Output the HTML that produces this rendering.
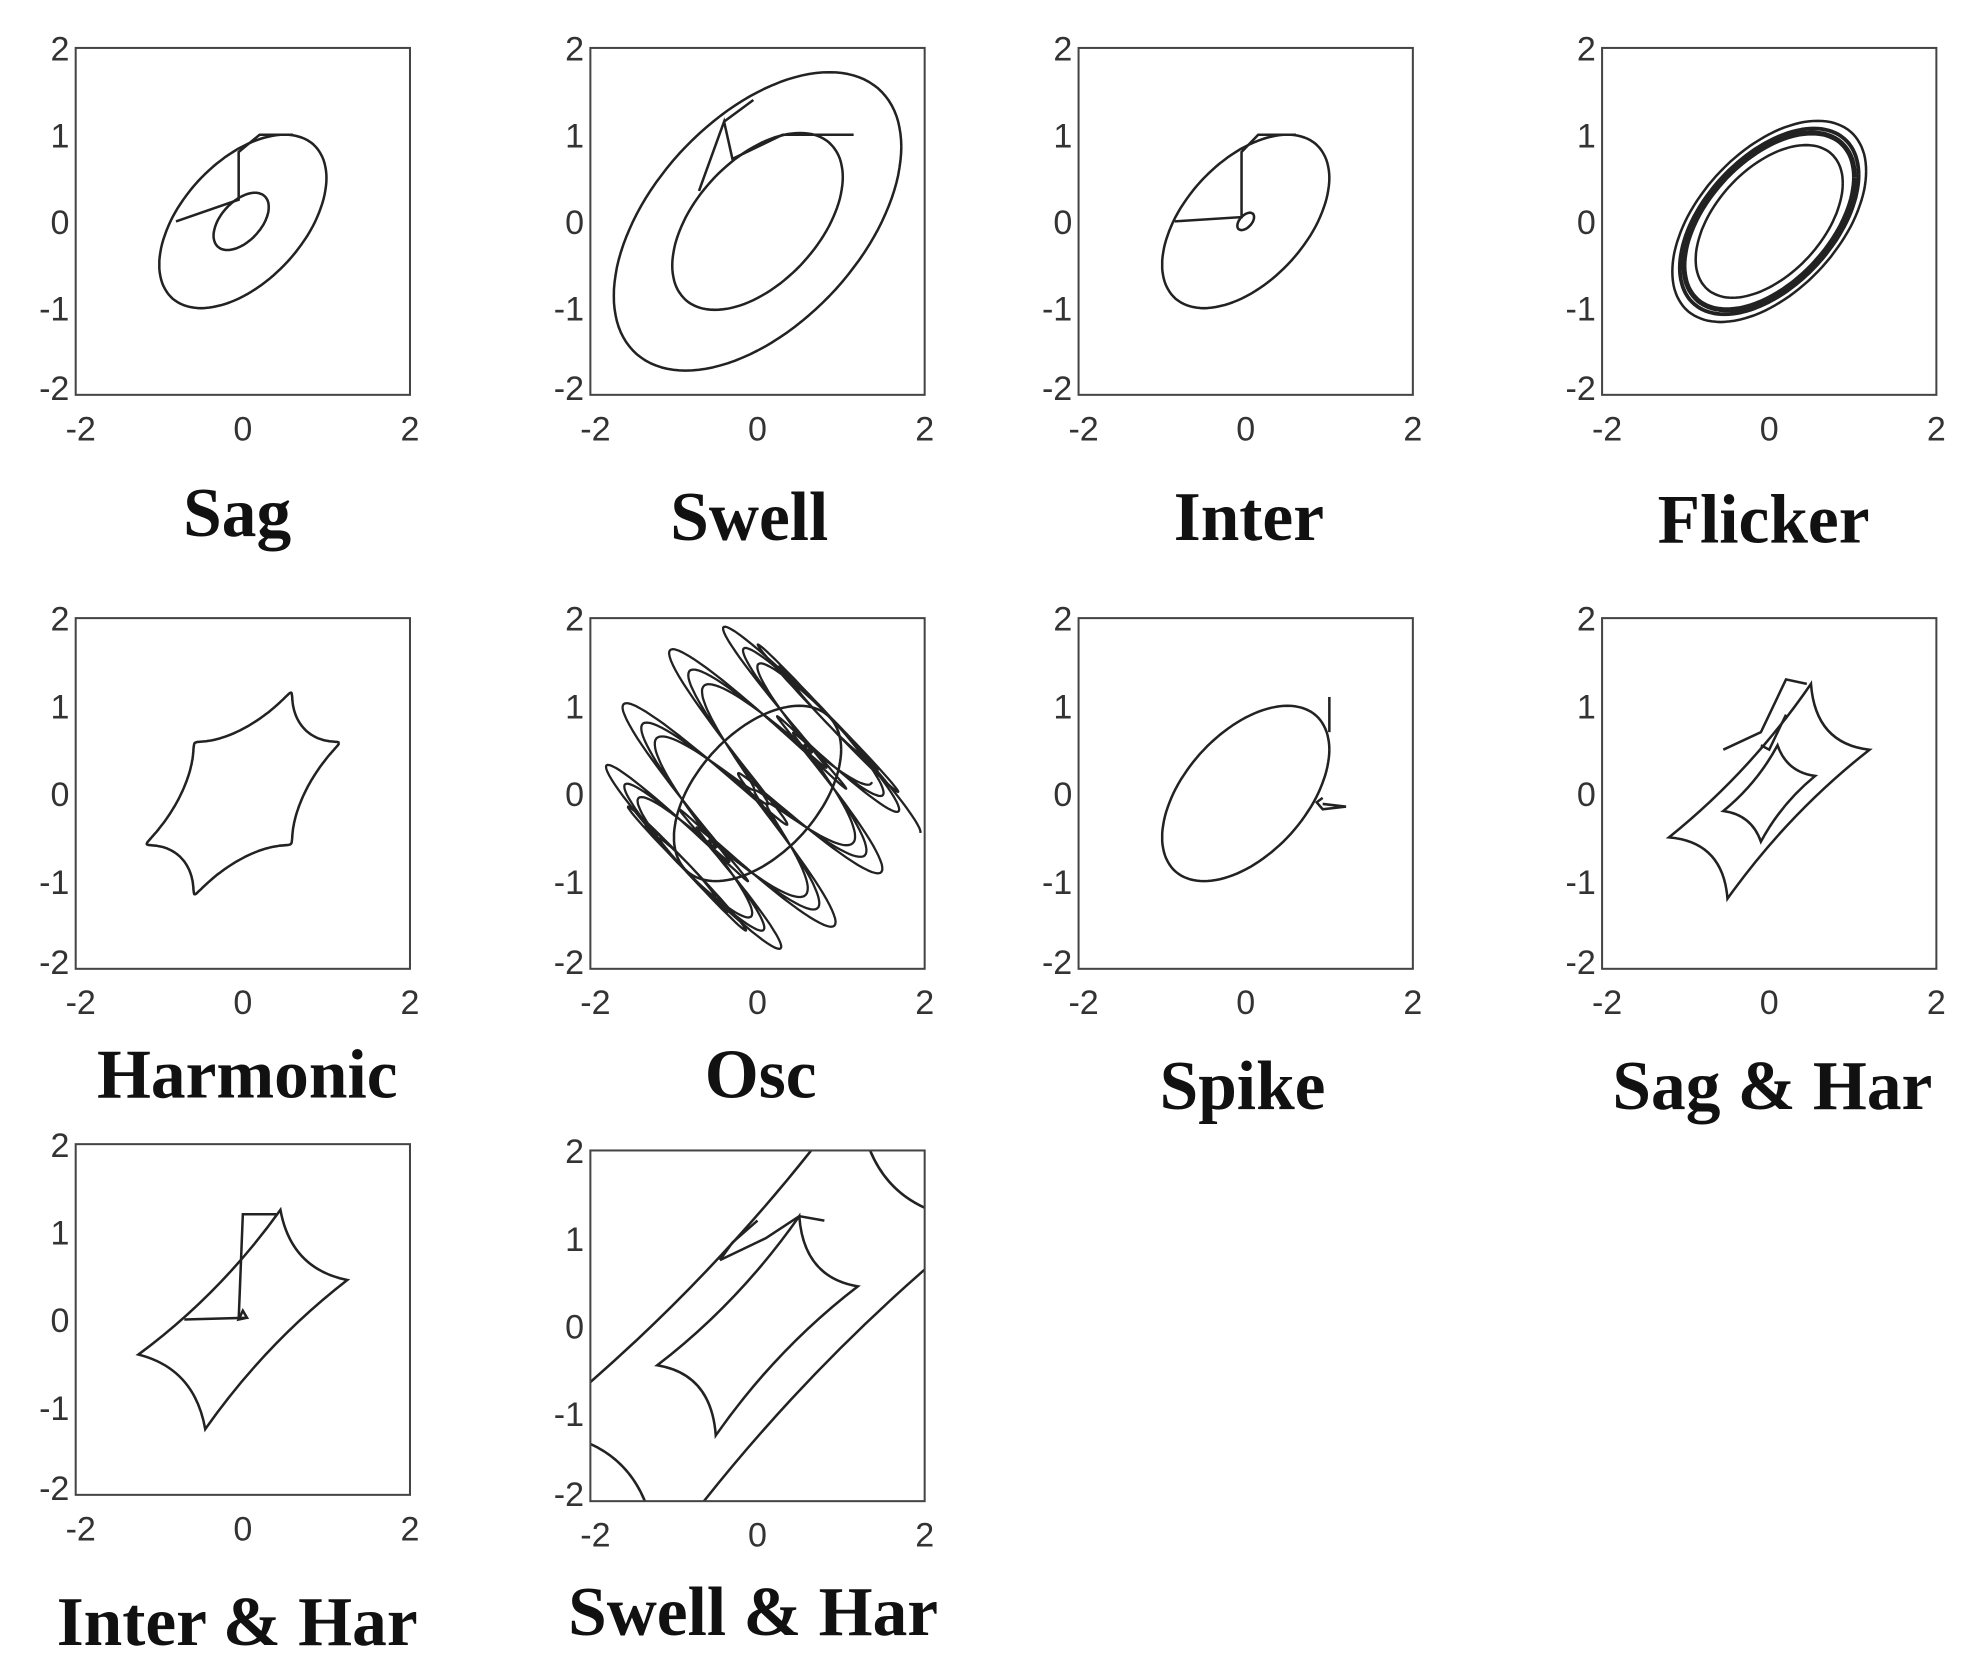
<!DOCTYPE html>
<html><head><meta charset="utf-8"><style>
html,body{margin:0;padding:0;background:#fff;}
svg{display:block;}
.t{font-family:"Liberation Sans",sans-serif;font-size:27px;fill:#333;}
.L{font-family:"Liberation Serif",serif;font-weight:bold;font-size:55px;fill:#111;}
</style></head><body>
<svg id="s" width="1978" height="1676" viewBox="0 0 1568 1328.6" xmlns="http://www.w3.org/2000/svg">
<text class="L" x="188" y="425" text-anchor="middle">Sag</text>
<text class="L" x="594" y="428" text-anchor="middle">Swell</text>
<text class="L" x="990" y="428" text-anchor="middle">Inter</text>
<text class="L" x="1398" y="430" text-anchor="middle">Flicker</text>
<text class="L" x="196" y="870" text-anchor="middle">Harmonic</text>
<text class="L" x="603" y="870" text-anchor="middle">Osc</text>
<text class="L" x="985" y="879" text-anchor="middle">Spike</text>
<text class="L" x="1405" y="879" text-anchor="middle">Sag &amp; Har</text>
<text class="L" x="188" y="1304" text-anchor="middle">Inter &amp; Har</text>
<text class="L" x="597" y="1296" text-anchor="middle">Swell &amp; Har</text>
</svg>
<script>
var S=document.getElementById('s'),NS='http://www.w3.org/2000/svg',cid=0;
function el(n,a,p){var e=document.createElementNS(NS,n);for(var k in a)e.setAttribute(k,a[k]);(p||S).appendChild(e);return e;}
var PH=Math.PI/3;
function plot(x0,y0,x1,y1,draw){
 cid++;var cp=el('clipPath',{id:'c'+cid});el('rect',{x:x0,y:y0,width:x1-x0,height:y1-y0},cp);
 var g=el('g',{'clip-path':'url(#c'+cid+')'});
 var cx=(x0+x1)/2,cy=(y0+y1)/2,sx=(x1-x0)/4,sy=(y1-y0)/4;
 function M(x,y){return (cx+x*sx).toFixed(1)+','+(cy-y*sy).toFixed(1);}
 var api={
  curve:function(f,t0,t1,n,w){var d='';for(var i=0;i<=n;i++){var t=t0+(t1-t0)*i/n,p=f(t);d+=(i?'L':'M')+M(p[0],p[1]);}
   el('path',{d:d,fill:'none',stroke:'#222','stroke-width':w||2,'stroke-linejoin':'round'},g);},
  ell:function(a,ox,oy,w){api.curve(function(t){return [ox+a*Math.cos(t),oy+a*Math.cos(t-PH)];},0,2*Math.PI,120,w);},
  line:function(pts,w){var d='';pts.forEach(function(p,i){d+=(i?'L':'M')+M(p[0],p[1]);});el('path',{d:d,fill:'none',stroke:'#222','stroke-width':w||2},g);},
  cusp:function(v,k,ox,oy){var d='M'+M(v[0][0],v[0][1]);for(var i=0;i<4;i++){var a=v[i],b=v[(i+1)%4];var mx=(a[0]+b[0])/2*k+ox*(1-k),my=(a[1]+b[1])/2*k+oy*(1-k);d+='Q'+M(mx,my)+' '+M(b[0],b[1]);}
   el('path',{d:d+'Z',fill:'none',stroke:'#222','stroke-width':2},g);}
 };
 draw(api);
 el('rect',{x:x0,y:y0,width:x1-x0,height:y1-y0,fill:'none',stroke:'#444','stroke-width':1.6});
 [2,1,0,-1,-2].forEach(function(v){el('text',{class:'t',x:x0-5,y:cy-v*sy+(v==-2?4:10),'text-anchor':'end'}).textContent=v;});
 [-2,0,2].forEach(function(v){el('text',{class:'t',x:cx+v*sx+(v==-2?4:0),y:y1+36,'text-anchor':'middle'}).textContent=v;});
}
var C=[[60,325],[468,733],[855,1120],[1270,1535]];
var R1=[38,313],R2=[490,768];
plot(C[0][0],R1[0],C[0][1],R1[1],function(a){a.ell(1,0,0);a.ell(0.33,-0.02,0.0);a.line([[-0.8,0],[-0.05,0.25],[-0.05,0.8],[0.2,1],[0.6,1]]);});
plot(C[1][0],R1[0],C[1][1],R1[1],function(a){a.ell(1.72,0,0);a.ell(1.02,0,0);a.line([[-0.7,0.35],[-0.4,1.15],[-0.3,0.72],[0.3,1],[1.15,1]]);a.line([[-0.4,1.15],[-0.05,1.4]]);});
plot(C[2][0],R1[0],C[2][1],R1[1],function(a){a.ell(1,0,0);a.ell(0.1,0,0);a.line([[-0.85,0],[-0.05,0.05],[-0.05,0.8],[0.15,1],[0.6,1]]);});
plot(C[3][0],R1[0],C[3][1],R1[1],function(a){a.ell(0.88,0,0,2);a.ell(1.02,0,0,4);a.ell(1.07,0,0,3);a.ell(1.16,0,0,2);});
plot(C[0][0],R2[0],C[0][1],R2[1],function(a){a.curve(function(t){var h=0.15;return [Math.cos(t)+h*Math.cos(5*t),Math.cos(t-PH)+h*Math.cos(5*(t-PH))];},0,2*Math.PI,300);});
plot(C[1][0],R2[0],C[1][1],R2[1],function(a){a.ell(1,0,0);
 a.curve(function(t){var e=0.95*Math.exp(-0.05*t)*Math.cos(9*t);var q=0.05*Math.sin(9*t);return [Math.cos(t)+e+q,Math.cos(t-PH)-e+q];},0,6*Math.PI,1600,1.8);});
plot(C[2][0],R2[0],C[2][1],R2[1],function(a){a.ell(1,0,0);a.line([[1.0,1.1],[1.0,0.7]]);a.line([[0.92,-0.05],[0.85,-0.1],[0.92,-0.18],[1.2,-0.15],[0.92,-0.12]]);});
plot(C[3][0],R2[0],C[3][1],R2[1],function(a){a.cusp([[-1.2,-0.5],[-0.5,-1.2],[1.2,0.5],[0.5,1.25]],0.65,0,0);
 a.cusp([[-0.55,-0.2],[-0.1,-0.55],[0.55,0.2],[0.1,0.55]],0.65,0,0);a.line([[-0.55,0.5],[-0.1,0.7],[0.2,1.3],[0.45,1.25]]);a.line([[-0.1,0.55],[0,0.5],[0.2,0.9]]);});
plot(60,907,325,1185,function(a){a.cusp([[-1.25,-0.4],[-0.45,-1.25],[1.25,0.45],[0.45,1.25]],0.68,0,0);
 a.line([[-0.7,0],[0.05,0.02],[0,0.1],[-0.05,0],[0.05,0.02]]);a.line([[-0.05,0],[0,1.2],[0.4,1.2]]);});
plot(468,912,733,1190,function(a){a.cusp([[-1.2,-0.45],[-0.5,-1.25],[1.2,0.45],[0.5,1.25]],0.65,0,0);
 a.cusp([[-2.7,-1.2],[-1.2,-2.7],[2.7,1.2],[1.2,2.7]],0.65,0,0);
 a.line([[-0.45,0.75],[-0.3,0.95],[0,1.2]]);a.line([[-0.45,0.75],[0.1,1],[0.5,1.25],[0.8,1.2]]);});
</script>
</body></html>
